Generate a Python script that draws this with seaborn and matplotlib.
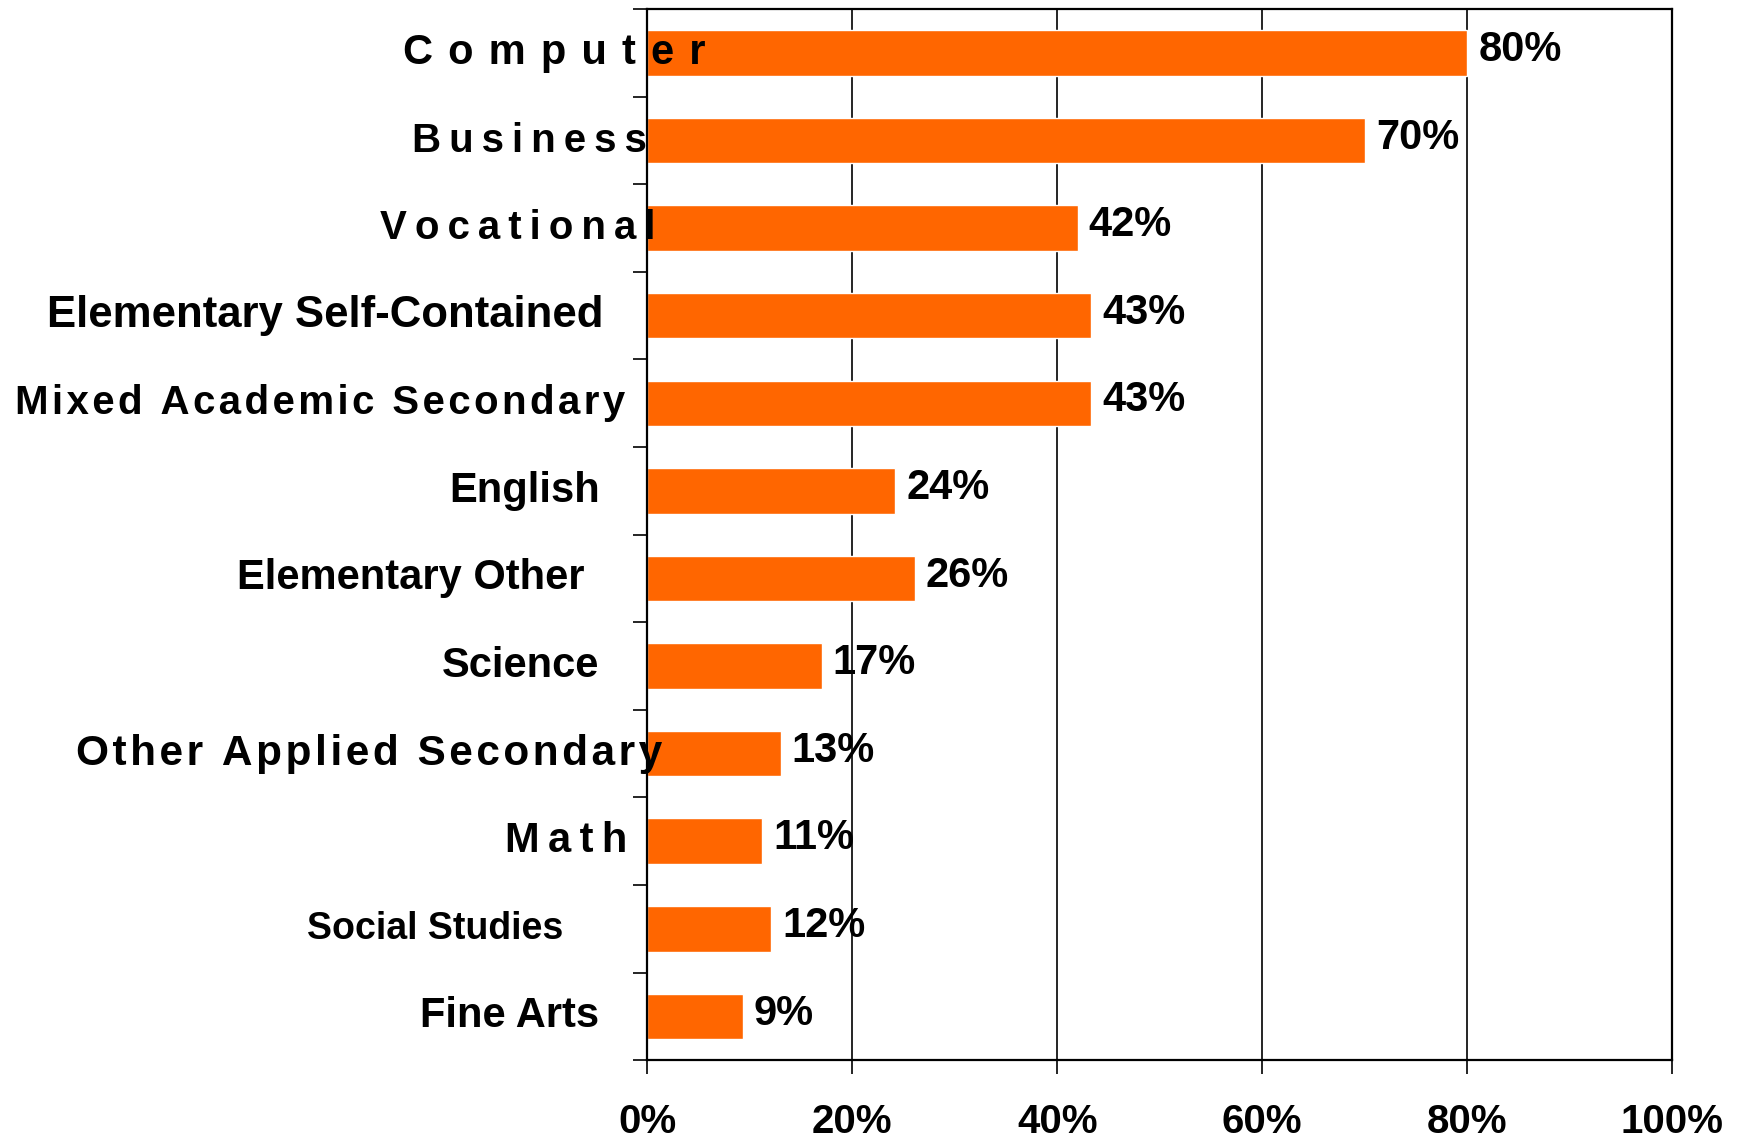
import matplotlib
matplotlib.use("Agg")
import matplotlib.pyplot as plt
import seaborn as sns
import numpy as np

# データ
categories = ["Computer", "Business", "Vocational", "Elementary Self-Contained",
              "Mixed Academic Secondary", "English", "Elementary Other", "Science",
              "Other Applied Secondary", "Math", "Social Studies", "Fine Arts"]
values = [80.0, 70.0, 42.0, 43.3, 43.3, 24.2, 26.1, 17.0, 13.0, 11.2, 12.1, 9.3]
value_labels = ["80%", "70%", "42%", "43%", "43%", "24%", "26%", "17%",
                "13%", "11%", "12%", "9%"]
xticks = [0, 20, 40, 60, 80, 100]
xtick_labels = ["0%", "20%", "40%", "60%", "80%", "100%"]

# 見た目 (ラベルの字間・サイズ・位置)
label_sep = [" \u200a", "\u2009", "\u2009", "", "\u200a", "", "", "",
             "\u200a", "\u2009", "", ""]
label_size = [30, 29, 29, 31.5, 29, 30, 30, 30, 30.5, 30, 27, 30]
label_right_px = [58, 0, 8, -44, -22, -47, -63, -48, 15, -20, -84, -48]

sns.set_style("white")
plt.rcParams["font.family"] = ["Liberation Sans", "DejaVu Sans"]
for k in ["text.color", "axes.labelcolor", "xtick.color", "ytick.color", "axes.edgecolor"]:
    plt.rcParams[k] = "black"

fig = plt.figure(figsize=(17.4, 11.4), dpi=100)
ax = fig.add_axes([0.372, 0.070, 0.589, 0.922])

sns.barplot(x=values, y=categories, orient="h", color="#FF6600", saturation=1,
            width=0.52, ax=ax)

ax.set_xlim(0, 100)
ax.set_ylim(len(categories) - 0.5, -0.5)
ax.set_xticks(xticks)
ax.set_xticklabels(xtick_labels, fontsize=29, fontweight="bold")
ax.set_yticks(np.arange(-0.5, len(categories), 1))
ax.set_yticklabels([])
ax.tick_params(axis="x", bottom=True, direction="out", length=10, width=1.2,
               pad=21, color="black")
ax.tick_params(axis="y", left=True, direction="out", length=10, width=1.2, color="black")
ax.set_xlabel("")
ax.set_ylabel("")

ax.xaxis.grid(True, color="black", lw=1.2)
ax.set_axisbelow(True)
for s in ax.spines.values():
    s.set_visible(True)
    s.set_color("black")
    s.set_linewidth(1.6)

# カテゴリ名
for i, name in enumerate(categories):
    sep = label_sep[i]
    txt = sep.join(name) if sep else name
    ax.annotate(txt, xy=(0, i), xycoords=("axes fraction", "data"),
                xytext=(label_right_px[i] * 0.72, 0), textcoords="offset points",
                ha="right", va="center", fontsize=label_size[i], fontweight="bold",
                zorder=5, annotation_clip=False)

# 値ラベル
for i, (v, lab) in enumerate(zip(values, value_labels)):
    ax.annotate(lab, xy=(v, i), xytext=(8, 2), textcoords="offset points",
                ha="left", va="center", fontsize=30, fontweight="bold")

fig.savefig("out.png", dpi=100)
